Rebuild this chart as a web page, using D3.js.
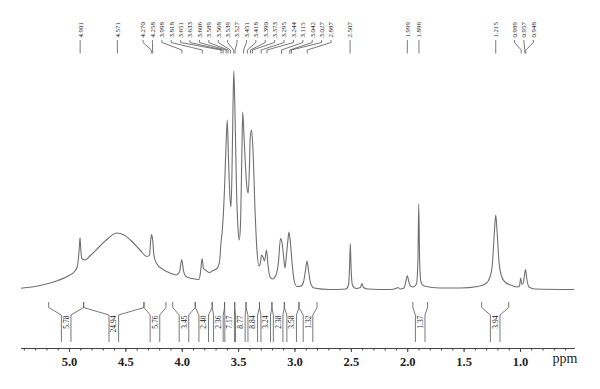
<!DOCTYPE html>
<html>
<head>
<meta charset="utf-8">
<script src="https://cdn.jsdelivr.net/npm/d3@7"></script>
<style>
  body { margin: 0; background: #fff; }
  svg { display: block; font-family: "Liberation Serif", "DejaVu Serif", serif; }
</style>
</head>
<body>
<div id="chart"></div>
<script>
// Spectrum trace (ppm, intensity in a.u.)
var specPpm = [5.426, 5.257, 5.124, 5.009, 4.947, 4.925, 4.910, 4.902, 4.895, 4.885,
  4.858, 4.814, 4.725, 4.654, 4.577, 4.512, 4.441, 4.370, 4.308, 4.286,
  4.275, 4.267, 4.258, 4.246, 4.220, 4.166, 4.104, 4.051, 4.020, 4.000,
  3.984, 3.962, 3.909, 3.847, 3.831, 3.820, 3.807, 3.785, 3.754, 3.723,
  3.687, 3.665, 3.652, 3.639, 3.621, 3.608, 3.596, 3.585, 3.572, 3.563,
  3.554, 3.545, 3.538, 3.528, 3.514, 3.501, 3.490, 3.479, 3.466, 3.459,
  3.448, 3.430, 3.419, 3.410, 3.399, 3.393, 3.381, 3.368, 3.350, 3.333,
  3.315, 3.302, 3.293, 3.279, 3.266, 3.248, 3.235, 3.217, 3.195, 3.164,
  3.142, 3.124, 3.111, 3.098, 3.084, 3.071, 3.058, 3.049, 3.035, 3.022,
  3.004, 2.978, 2.942, 2.920, 2.902, 2.889, 2.876, 2.858, 2.827, 2.685,
  2.543, 2.521, 2.511, 2.505, 2.499, 2.486, 2.455, 2.415, 2.402, 2.388,
  2.348, 2.153, 2.100, 2.082, 2.064, 2.029, 2.011, 2.000, 1.987, 1.971,
  1.949, 1.918, 1.905, 1.898, 1.890, 1.878, 1.851, 1.710, 1.532, 1.373,
  1.301, 1.266, 1.244, 1.226, 1.215, 1.204, 1.186, 1.164, 1.133, 1.071,
  1.027, 1.004, 0.994, 0.984, 0.973, 0.960, 0.951, 0.938, 0.920, 0.867, 0.521];
var specInt = [1.2, 4, 8, 13.5, 18.5, 23.5, 39.5, 52, 39.5, 31,
  29.5, 33.5, 43.5, 51, 56.5, 54.5, 48, 39.5, 33, 34.5,
  49.5, 55, 49.5, 33.5, 25.5, 20, 16.5, 14.5, 17.5, 30,
  18.5, 13, 11, 10, 19.5, 31, 21, 19, 17, 19,
  21, 27.5, 46.5, 60.5, 99.5, 141.5, 169.5, 129.5, 91.5, 82.5,
  119.5, 184.5, 218.5, 179.5, 99.5, 61.5, 49.5, 64.5, 139.5, 177.5,
  154.5, 114.5, 99.5, 96.5, 124.5, 151.5, 159.5, 139.5, 79.5, 39.5,
  23.5, 26.5, 34.5, 32.5, 28.5, 39.5, 24.5, 12.5, 10.5, 14.5,
  27.5, 51, 47.5, 34.5, 21.5, 34.5, 49.5, 57.5, 45.5, 27.5,
  9.5, 3, 3.5, 7.5, 19.5, 28.5, 19.5, 6.5, 1.5, 0,
  0.5, 4.5, 24.5, 46, 24.5, 4.5, 1, 2, 6, 2,
  0.5, 0, 1, 2, 0.5, 1.5, 8.5, 14, 8.5, 3.5,
  2.5, 5.5, 29.5, 85.5, 29.5, 7.5, 3.5, 1.5, 1.5, 3,
  6, 12.5, 26.5, 59.5, 74.5, 59.5, 27.5, 13.5, 7.5, 4,
  2.5, 3.5, 11.5, 5.5, 5.5, 14.5, 20, 9.5, 2.5, 0.5, 0];

// Peak picking labels
var peakLabels = ["4.901", "4.571", "4.270", "4.258", "3.998", "3.818", "3.651", "3.633",
  "3.606", "3.589", "3.568", "3.539", "3.527", "3.451", "3.418", "3.390", "3.373",
  "3.295", "3.244", "3.115", "3.042", "3.027", "2.887", "2.507", "1.999", "1.896",
  "1.215", "0.989", "0.957", "0.948"];

// Integration regions
var intStart = [5.18, 4.87, 4.335, 4.08, 3.88, 3.73, 3.62, 3.53, 3.43, 3.31, 3.20, 3.09, 2.96, 1.95, 1.34];
var intEnd   = [4.87, 4.335, 4.14, 3.88, 3.73, 3.62, 3.53, 3.43, 3.31, 3.20, 3.09, 2.96, 2.80, 1.82, 1.10];
var intLabels = ["5.78", "24.94", "5.76", "3.45", "2.40", "2.36", "7.17", "8.77", "8.84",
  "3.24", "2.38", "3.58", "1.32", "1.37", "3.94"];

// Axis
var majorTicks = [5.0, 4.5, 4.0, 3.5, 3.0, 2.5, 2.0, 1.5, 1.0];
var ppmDomain = [5.43, 0.52];

var svgWidth = 600;
var svgHeight = 389;

var svg = d3.select("#chart")
  .append("svg")
  .attr("width", svgWidth)
  .attr("height", svgHeight);

var x = d3.scaleLinear().domain(ppmDomain).range([20.5, 574.1]);
var y = d3.scaleLinear().domain([0, 218.5]).range([289.5, 71]);

// spectrum
var specData = specPpm.map(function(p, i) { return [p, specInt[i]]; });
var line = d3.line()
  .x(function(d) { return x(d[0]); })
  .y(function(d) { return y(d[1]); })
  .curve(d3.curveMonotoneX);

svg.append("path")
  .datum(specData)
  .attr("d", line)
  .attr("fill", "none")
  .attr("stroke", "#6f6f6f")
  .attr("stroke-width", 1.1);

// spread overlapping labels around the mean of their targets
function spread(xs, gap) {
  var groups = xs.map(function(v, i) { return { start: i, end: i, center: v }; });
  var changed = true;
  while (changed) {
    changed = false;
    for (var g = 0; g < groups.length - 1; g++) {
      var a = groups[g], b = groups[g + 1];
      var aRight = a.center + (a.end - a.start) * gap / 2;
      var bLeft = b.center - (b.end - b.start) * gap / 2;
      if (bLeft - aRight < gap) {
        var mean = d3.mean(xs.slice(a.start, b.end + 1));
        groups.splice(g, 2, { start: a.start, end: b.end, center: mean });
        changed = true;
        break;
      }
    }
  }
  var out = [];
  groups.forEach(function(gr) {
    var n = gr.end - gr.start + 1;
    for (var k = 0; k < n; k++) out.push(gr.center + (k - (n - 1) / 2) * gap);
  });
  return out;
}

// peak labels at the top
var peakX = peakLabels.map(function(p) { return x(+p); });
var labelX = spread(peakX, 9.4);
var peakG = svg.append("g");

peakLabels.forEach(function(p, i) {
  peakG.append("path")
    .attr("d", "M" + labelX[i] + ",40 L" + labelX[i] + ",42.5 L" + peakX[i] + ",50 L" + peakX[i] + ",53.5")
    .attr("fill", "none")
    .attr("stroke", "#555")
    .attr("stroke-width", 0.8);
  peakG.append("text")
    .attr("transform", "translate(" + labelX[i] + ",37.5) rotate(-90)")
    .attr("dy", "0.35em")
    .attr("font-size", "6.8px")
    .attr("fill", "#222")
    .text(p);
});

// integration brackets
var intG = svg.append("g");
var intCenters = spread(intStart.map(function(s, i) { return (x(s) + x(intEnd[i])) / 2; }), 10.5);
var half = 4.8;

intLabels.forEach(function(lab, i) {
  var x0 = x(intStart[i]), x1 = x(intEnd[i]), c = intCenters[i];
  intG.append("path")
    .attr("d", "M" + x0 + ",302 L" + x0 + ",307.5 L" + (c - half) + ",315 L" + (c - half) + ",342" +
               "M" + x1 + ",302 L" + x1 + ",307.5 L" + (c + half) + ",315 L" + (c + half) + ",342")
    .attr("fill", "none")
    .attr("stroke", "#555")
    .attr("stroke-width", 0.8);
  intG.append("text")
    .attr("transform", "translate(" + c + ",315.5) rotate(-90)")
    .attr("dy", "0.35em")
    .attr("text-anchor", "end")
    .attr("font-size", "7.6px")
    .attr("fill", "#222")
    .text(lab);
});

// x axis
var minorTicks = d3.range(54, 5, -1).map(function(v) { return v / 10; });
var axisY = 348;

var minorAxis = d3.axisBottom(x).tickValues(minorTicks).tickSize(2.5).tickSizeOuter(0).tickFormat("");
var majorAxis = d3.axisBottom(x).tickValues(majorTicks).tickSize(4).tickSizeOuter(0)
  .tickFormat(d3.format(".1f")).tickPadding(5);

var gMinor = svg.append("g").attr("transform", "translate(0," + axisY + ")").call(minorAxis);
var gMajor = svg.append("g").attr("transform", "translate(0," + axisY + ")").call(majorAxis);

[gMinor, gMajor].forEach(function(g) {
  g.select(".domain").attr("stroke", "#444").attr("stroke-width", 1);
  g.selectAll(".tick line").attr("stroke", "#444");
});
gMajor.selectAll(".tick text")
  .attr("font-family", "Liberation Serif, serif")
  .attr("font-size", "12.5px")
  .attr("font-weight", "bold")
  .attr("fill", "#222");

svg.append("text")
  .attr("x", 565)
  .attr("y", 362.5)
  .attr("text-anchor", "middle")
  .attr("font-size", "14px")
  .attr("fill", "#222")
  .text("ppm");
</script>
</body>
</html>
